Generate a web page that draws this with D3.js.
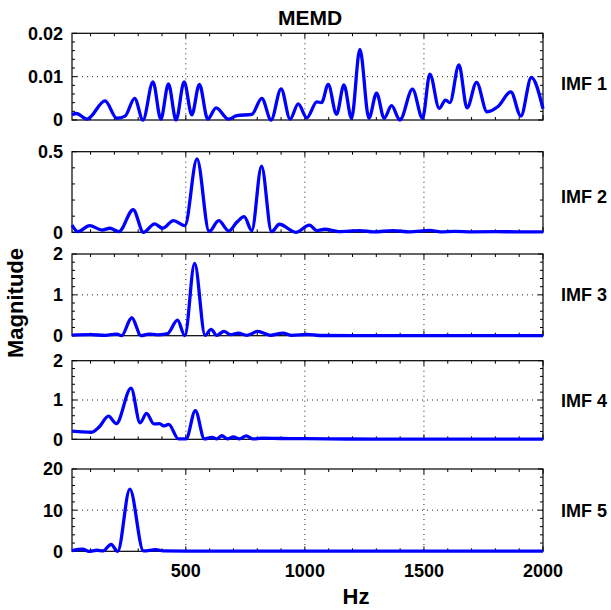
<!DOCTYPE html>
<html><head><meta charset="utf-8">
<script src="https://cdn.jsdelivr.net/npm/d3@7/dist/d3.min.js"></script>
<style>body{margin:0;background:#fff}svg{display:block}text{font-family:"Liberation Sans",Arial,Helvetica,sans-serif;font-weight:bold;fill:#000}</style>
</head><body><svg id="c" width="611" height="610"></svg>
<script>
const xTicks = [500, 1000, 1500, 2000];
const imfNames = ["IMF 1", "IMF 2", "IMF 3", "IMF 4", "IMF 5"];
const yTicks1 = [0, 0.01, 0.02];
const yTicks2 = [0, 0.5];
const yTicks3 = [0, 1, 2];
const yTicks4 = [0, 1, 2];
const yTicks5 = [0, 10, 20];

const imf1Hz = [22, 40, 85, 161, 210, 245, 285, 320, 362, 395, 427, 459, 493, 525, 557, 592, 627, 679, 714, 777, 819, 858, 900, 938, 972, 1008, 1050, 1070, 1098, 1133, 1164, 1196, 1231, 1269, 1301, 1333, 1364, 1399, 1452, 1494, 1525, 1564, 1591, 1609, 1647, 1681, 1721, 1765, 1811, 1865, 1907, 1951, 2000];
const imf1Mag = [0.0012, 0.0015, 0.0002, 0.0044, 0.0004, 0.0009, 0.005, 0, 0.0088, 0.0002, 0.0083, 0, 0.0088, 0.0012, 0.0082, 0.0002, 0.0028, 0.0002, 0.001, 0.0013, 0.005, 0, 0.0072, 0.0002, 0.0037, 0.0005, 0.0042, 0.004, 0.0082, 0.0013, 0.0081, 0.0004, 0.0163, 0.0004, 0.0062, 0.0004, 0.0033, 0, 0.0071, 0.0004, 0.0106, 0.0027, 0.0046, 0.004, 0.0127, 0.0028, 0.0087, 0.0019, 0.0031, 0.0065, 0.0009, 0.0098, 0.0026];

const imf2Hz = [22, 47, 96, 149, 181, 219, 279, 322, 369, 403, 448, 496, 547, 598, 638, 681, 714, 745, 777, 818, 860, 893, 962, 1019, 1051, 1084, 1142, 1231, 1290, 1370, 1440, 1524, 1570, 1630, 1700, 1800, 1900, 2000];
const imf2Mag = [0.045, 0.004, 0.041, 0.014, 0.025, 0.004, 0.14, 0, 0.052, 0.025, 0.072, 0.041, 0.455, 0.004, 0.072, 0.008, 0.062, 0.097, 0.01, 0.41, 0.004, 0.05, 0, 0.045, 0.01, 0.019, 0.004, 0.01, 0.003, 0.01, 0.003, 0.012, 0.003, 0.006, 0.003, 0.004, 0.003, 0.003];

const imf3Hz = [22, 100, 162, 211, 230, 273, 312, 345, 380, 423, 465, 496, 537, 581, 606, 630, 660, 688, 720, 757, 802, 855, 908, 945, 1011, 1060, 1200, 1500, 2000];
const imf3Mag = [0.015, 0.025, 0.01, 0.04, 0, 0.44, 0, 0.04, 0.02, 0.05, 0.38, 0, 1.77, 0.01, 0.155, 0.01, 0.105, 0.025, 0.06, 0.01, 0.105, 0.01, 0.065, 0.01, 0.03, 0.005, 0.004, 0.003, 0.003];

const imf4Hz = [22, 64, 104, 137, 175, 208, 270, 308, 335, 366, 390, 407, 428, 469, 501, 540, 578, 611, 630, 651, 675, 700, 725, 754, 780, 820, 900, 1000, 1100, 1300, 2000];
const imf4Mag = [0.21, 0.19, 0.18, 0.32, 0.59, 0.4, 1.3, 0.42, 0.66, 0.39, 0.4, 0.34, 0.38, 0.01, 0.01, 0.73, 0.01, 0.05, 0.01, 0.09, 0.01, 0.06, 0.01, 0.085, 0.01, 0.03, 0.02, 0.015, 0.01, 0.005, 0.005];

const imf5Hz = [22, 67, 93, 126, 153, 186, 214, 265, 322, 374, 405, 500, 2000];
const imf5Mag = [0.15, 0.5, 0, 0.25, 0.1, 1.7, 0, 15.1, 0.1, 0.4, 0.1, 0.05, 0.05];

const series = [
  {hz: imf1Hz, mag: imf1Mag, ticks: yTicks1, fmt: d => d === 0 ? "0" : d3.format(".2f")(d)},
  {hz: imf2Hz, mag: imf2Mag, ticks: yTicks2, fmt: d => d === 0 ? "0" : String(d)},
  {hz: imf3Hz, mag: imf3Mag, ticks: yTicks3, fmt: String},
  {hz: imf4Hz, mag: imf4Mag, ticks: yTicks4, fmt: String},
  {hz: imf5Hz, mag: imf5Mag, ticks: yTicks5, fmt: String}
];

// layout
const X0 = 72, X1 = 543;
const panelTops = [33.3, 151.7, 254, 360.7, 469];
const panelBottoms = [120, 232.3, 335.7, 439.3, 551.3];
const labelCenters = [84, 197, 295, 401, 511];

const svg = d3.select("#c");
const x = d3.scaleLinear().domain([22, 2000]).range([X0, X1]);
const xMinor = d3.range(100, 2001, 100);

series.forEach((s, i) => {
  const top = panelTops[i], bot = panelBottoms[i];
  const ymax = s.ticks[s.ticks.length - 1];
  const y = d3.scaleLinear().domain([0, ymax]).range([bot, top]);
  const g = svg.append("g");
  const step = s.ticks[1] - s.ticks[0];
  const yMinor = d3.range(0, ymax + step / 10, step / 5);

  // gridlines
  g.selectAll(".vg").data(xTicks.filter(t => t < 2000)).join("line")
    .attr("x1", d => x(d)).attr("x2", d => x(d)).attr("y1", top).attr("y2", bot)
    .attr("stroke", "#222").attr("stroke-width", 1).attr("stroke-dasharray", "1,4");
  g.selectAll(".hg").data(s.ticks.filter(t => t > 0 && t < ymax)).join("line")
    .attr("x1", X0).attr("x2", X1).attr("y1", d => y(d)).attr("y2", d => y(d))
    .attr("stroke", "#222").attr("stroke-width", 1).attr("stroke-dasharray", "1,4");

  // minor ticks
  xMinor.forEach(t => {
    const len = xTicks.includes(t) ? 5 : 3;
    g.append("line").attr("x1", x(t)).attr("x2", x(t)).attr("y1", bot).attr("y2", bot - len).attr("stroke", "#000");
    g.append("line").attr("x1", x(t)).attr("x2", x(t)).attr("y1", top).attr("y2", top + len).attr("stroke", "#000");
  });
  yMinor.forEach(t => {
    const len = s.ticks.some(v => Math.abs(v - t) < step / 100) ? 5 : 3;
    g.append("line").attr("x1", X0).attr("x2", X0 + len).attr("y1", y(t)).attr("y2", y(t)).attr("stroke", "#000");
    g.append("line").attr("x1", X1).attr("x2", X1 - len).attr("y1", y(t)).attr("y2", y(t)).attr("stroke", "#000");
  });

  // box
  g.append("rect").attr("x", X0).attr("y", top).attr("width", X1 - X0).attr("height", bot - top)
    .attr("fill", "none").attr("stroke", "#000").attr("stroke-width", 1.2);

  // y labels
  g.selectAll(".yl").data(s.ticks).join("text")
    .attr("x", X0 - 9).attr("y", d => y(d)).attr("dy", "0.36em")
    .attr("text-anchor", "end").attr("font-size", 18).text(s.fmt);

  // line
  const pts = s.hz.map((h, k) => [h, s.mag[k]]);
  g.append("path").datum(pts)
    .attr("fill", "none").attr("stroke", "#0000ff").attr("stroke-width", 3.3)
    .attr("stroke-linejoin", "round")
    .attr("d", d3.line().x(d => x(d[0])).y(d => y(d[1])).curve(d3.curveMonotoneX));

  // IMF label
  g.append("text").attr("x", 561).attr("y", labelCenters[i]).attr("dy", "0.36em")
    .attr("font-size", 18).text(imfNames[i]);

  if (i === 4) {
    g.selectAll(".xl").data(xTicks).join("text")
      .attr("x", d => x(d)).attr("y", 577).attr("text-anchor", "middle")
      .attr("font-size", 18).text(d => d);
  }
});

svg.append("text").attr("x", 310).attr("y", 25).attr("text-anchor", "middle").attr("font-size", 21).text("MEMD");
svg.append("text").attr("x", 356).attr("y", 604).attr("text-anchor", "middle").attr("font-size", 22).text("Hz");
svg.append("text").attr("transform", "translate(23,303) rotate(-90)").attr("text-anchor", "middle").attr("font-size", 22).text("Magnitude");
</script></body></html>
